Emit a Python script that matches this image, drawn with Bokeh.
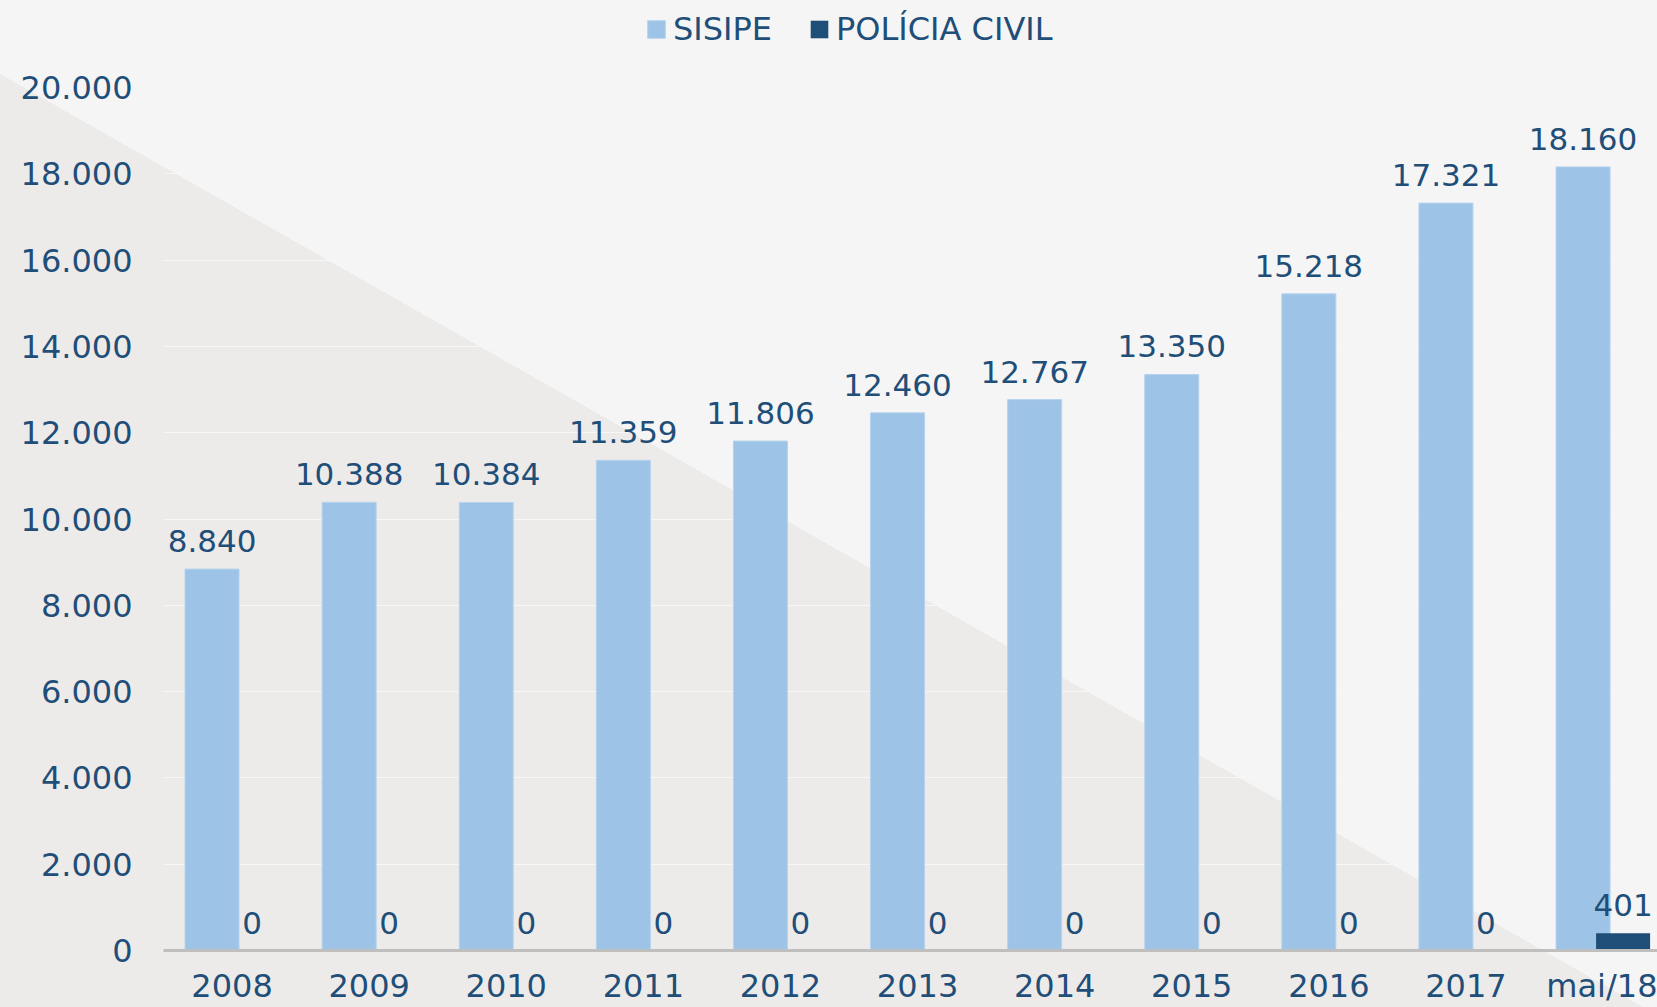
import math
from bokeh.plotting import figure
from bokeh.models import Range1d, FixedTicker, ColumnDataSource
from bokeh.transform import dodge
from bokeh.core.properties import value
from bokeh.embed import file_html
from bokeh.resources import INLINE

# ---------------- data ----------------
categories = ["2008", "2009", "2010", "2011", "2012", "2013", "2014", "2015", "2016", "2017", "mai/18"]
sisipe = [8840, 10388, 10384, 11359, 11806, 12460, 12767, 13350, 15218, 17321, 18160]
policia_civil = [0, 0, 0, 0, 0, 0, 0, 0, 0, 0, 401]
series_names = ["SISIPE", "POLÍCIA CIVIL"]
y_ticks = [0, 2000, 4000, 6000, 8000, 10000, 12000, 14000, 16000, 18000, 20000]


def br(v):
    return f"{v:,}".replace(",", ".")


# ---------------- style ----------------
W, H = 1657, 1007
FONT = "DejaVu Sans"
TXT = "#1f4e79"
C_SISIPE = "#9dc3e6"
C_PC = "#1f4e79"
BG_LIGHT = "#f5f5f5"
BG_DARK = "#edebe9"

# layout (pixels): axis at y=950, 20.000 gridline at y=87, frame reaching the top
Y_AXIS_PX, Y_TOP_PX = 950.0, 87.0
y_max = y_ticks[-1]
y_end = y_max * Y_AXIS_PX / (Y_AXIS_PX - Y_TOP_PX)

idx = list(range(len(categories)))
source = ColumnDataSource(data=dict(
    idx=idx,
    sisipe=sisipe,
    policia=policia_civil,
    sisipe_lbl=[br(v) for v in sisipe],
    policia_lbl=[br(v) for v in policia_civil],
))

p = figure(width=W, height=H, output_backend="svg", toolbar_location=None,
           x_range=Range1d(-0.5, 10.397), y_range=Range1d(0, y_end),
           min_border_left=163, min_border_right=0, min_border_top=0, min_border_bottom=57)

p.background_fill_color = None
p.border_fill_color = None
p.outline_line_color = None

# diagonal two-tone background (decoration)
slope, y0 = 0.568, 74.0
theta = math.atan2(slope, 1.0)
d = (math.sin(theta), -math.cos(theta))
L = W * abs(math.sin(theta)) + H * abs(math.cos(theta))
D = (0 - W / 2) * d[0] + (y0 - H / 2) * d[1] + L / 2
p.styles = {
    "position": "absolute", "left": "0px", "top": "0px",
    "background": f"linear-gradient({math.degrees(theta):.3f}deg, {BG_DARK} {D:.1f}px, {BG_LIGHT} {D:.1f}px)",
}

off = 0.146
bw = 0.394
p.vbar(x=dodge("idx", -off, range=p.x_range), top="sisipe", width=bw, source=source,
       fill_color=C_SISIPE, line_color="#b6d3ee", line_width=1, legend_label=series_names[0])
p.vbar(x=dodge("idx", off, range=p.x_range), top="policia", width=bw, source=source,
       fill_color=C_PC, line_color=None, legend_label=series_names[1])

for col, lbl, o in (("sisipe", "sisipe_lbl", -off), ("policia", "policia_lbl", off)):
    p.text(x=dodge("idx", o, range=p.x_range), y=col, text=lbl, source=source,
           text_align="center", text_baseline="alphabetic", y_offset=-28,
           text_font=value(FONT), text_font_size="31px", text_color=TXT)

# axes
p.xaxis.ticker = FixedTicker(ticks=idx)
p.xaxis.major_label_overrides = {i: c for i, c in enumerate(categories)}
p.yaxis.ticker = FixedTicker(ticks=y_ticks)
p.yaxis.major_label_overrides = {t: br(t) for t in y_ticks}

for ax in (p.xaxis[0], p.yaxis[0]):
    ax.major_tick_line_color = None
    ax.minor_tick_line_color = None
    ax.major_tick_out = 0
    ax.major_tick_in = 0
    ax.minor_tick_out = 0
    ax.minor_tick_in = 0
    ax.major_label_text_font = FONT
    ax.major_label_text_font_size = "32px"
    ax.major_label_text_color = TXT

p.xaxis.axis_line_color = "#bfbfbf"
p.xaxis.axis_line_width = 3
p.xaxis.major_label_standoff = 16
p.yaxis.axis_line_color = None
p.yaxis.major_label_standoff = 31

p.xgrid.grid_line_color = None
p.ygrid.grid_line_color = "#f7f7f7"
p.ygrid.grid_line_width = 1

# legend, inside the (extended) frame, above the bars
leg = p.legend[0]
leg.location = (482, 902)
leg.orientation = "horizontal"
leg.background_fill_alpha = 0
leg.border_line_color = None
leg.padding = 0
leg.margin = 0
leg.spacing = 36
leg.label_standoff = 6
leg.glyph_width = 22
leg.glyph_height = 22
leg.label_text_font = FONT
leg.label_text_font_size = "32px"
leg.label_text_color = TXT

open("out.html", "w").write(file_html(p, INLINE))
